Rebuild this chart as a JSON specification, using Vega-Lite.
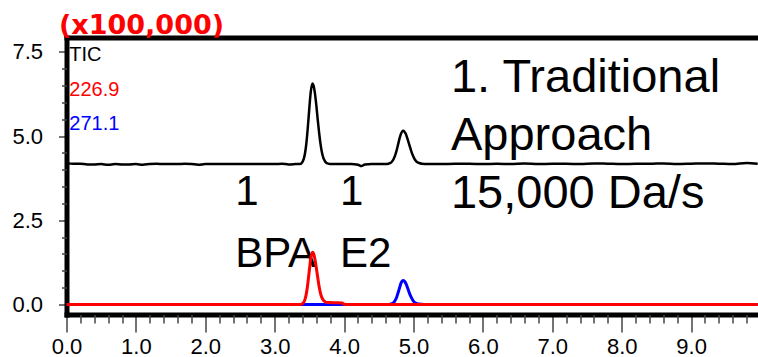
{
  "$schema": "https://vega.github.io/schema/vega-lite/v6.json",
  "width": 691.5,
  "height": 277,
  "autosize": {"type": "none"},
  "padding": {"left": 66.5, "top": 37.5, "right": 0, "bottom": 42.5},
  "background": "white",
  "config": {
    "view": {"stroke": null},
    "axis": {"grid": false, "domain": false, "labelFont": "Liberation Sans", "labelFontSize": 22, "labelColor": "black", "tickColor": "#444", "tickWidth": 1.5},
    "text": {"font": "Liberation Sans"}
  },
  "datasets": {
    "lines": [
      {"t": 0.0, "v": 4.19, "s": "TIC"}, {"t": 0.1, "v": 4.18, "s": "TIC"}, {"t": 0.2, "v": 4.18, "s": "TIC"}, {"t": 0.3, "v": 4.16, "s": "TIC"}, {"t": 0.4, "v": 4.16, "s": "TIC"}, {"t": 0.5, "v": 4.17, "s": "TIC"}, {"t": 0.6, "v": 4.15, "s": "TIC"}, {"t": 0.7, "v": 4.17, "s": "TIC"}, {"t": 0.8, "v": 4.16, "s": "TIC"}, {"t": 0.9, "v": 4.16, "s": "TIC"}, {"t": 1.0, "v": 4.17, "s": "TIC"}, {"t": 1.1, "v": 4.15, "s": "TIC"}, {"t": 1.2, "v": 4.17, "s": "TIC"}, {"t": 1.3, "v": 4.18, "s": "TIC"}, {"t": 1.4, "v": 4.17, "s": "TIC"}, {"t": 1.5, "v": 4.17, "s": "TIC"}, {"t": 1.6, "v": 4.17, "s": "TIC"}, {"t": 1.7, "v": 4.18, "s": "TIC"}, {"t": 1.8, "v": 4.17, "s": "TIC"}, {"t": 1.9, "v": 4.15, "s": "TIC"}, {"t": 2.0, "v": 4.17, "s": "TIC"}, {"t": 2.2, "v": 4.17, "s": "TIC"}, {"t": 2.4, "v": 4.17, "s": "TIC"}, {"t": 2.6, "v": 4.17, "s": "TIC"}, {"t": 2.8, "v": 4.17, "s": "TIC"}, {"t": 3.0, "v": 4.17, "s": "TIC"}, {"t": 3.1, "v": 4.18, "s": "TIC"}, {"t": 3.2, "v": 4.16, "s": "TIC"}, {"t": 3.3, "v": 4.17, "s": "TIC"}, {"t": 3.38, "v": 4.18, "s": "TIC"},
      {"t": 3.40, "v": 4.235, "s": "TIC"}, {"t": 3.42, "v": 4.33, "s": "TIC"}, {"t": 3.44, "v": 4.53, "s": "TIC"}, {"t": 3.46, "v": 4.86, "s": "TIC"}, {"t": 3.48, "v": 5.33, "s": "TIC"}, {"t": 3.50, "v": 5.86, "s": "TIC"}, {"t": 3.52, "v": 6.32, "s": "TIC"}, {"t": 3.545, "v": 6.56, "s": "TIC"}, {"t": 3.56, "v": 6.50, "s": "TIC"}, {"t": 3.58, "v": 6.27, "s": "TIC"}, {"t": 3.60, "v": 5.91, "s": "TIC"}, {"t": 3.62, "v": 5.49, "s": "TIC"}, {"t": 3.64, "v": 5.10, "s": "TIC"}, {"t": 3.66, "v": 4.77, "s": "TIC"}, {"t": 3.68, "v": 4.52, "s": "TIC"}, {"t": 3.70, "v": 4.36, "s": "TIC"}, {"t": 3.72, "v": 4.27, "s": "TIC"}, {"t": 3.74, "v": 4.21, "s": "TIC"}, {"t": 3.76, "v": 4.19, "s": "TIC"}, {"t": 3.80, "v": 4.17, "s": "TIC"},
      {"t": 3.9, "v": 4.17, "s": "TIC"}, {"t": 4.0, "v": 4.17, "s": "TIC"}, {"t": 4.1, "v": 4.17, "s": "TIC"}, {"t": 4.2, "v": 4.15, "s": "TIC"}, {"t": 4.25, "v": 4.11, "s": "TIC"}, {"t": 4.3, "v": 4.16, "s": "TIC"}, {"t": 4.4, "v": 4.17, "s": "TIC"}, {"t": 4.5, "v": 4.17, "s": "TIC"}, {"t": 4.6, "v": 4.17, "s": "TIC"}, {"t": 4.64, "v": 4.18, "s": "TIC"},
      {"t": 4.66, "v": 4.195, "s": "TIC"}, {"t": 4.68, "v": 4.22, "s": "TIC"}, {"t": 4.70, "v": 4.27, "s": "TIC"}, {"t": 4.72, "v": 4.35, "s": "TIC"}, {"t": 4.74, "v": 4.46, "s": "TIC"}, {"t": 4.76, "v": 4.60, "s": "TIC"}, {"t": 4.78, "v": 4.77, "s": "TIC"}, {"t": 4.80, "v": 4.94, "s": "TIC"}, {"t": 4.82, "v": 5.07, "s": "TIC"}, {"t": 4.85, "v": 5.16, "s": "TIC"}, {"t": 4.87, "v": 5.13, "s": "TIC"}, {"t": 4.89, "v": 5.06, "s": "TIC"}, {"t": 4.91, "v": 4.94, "s": "TIC"}, {"t": 4.93, "v": 4.81, "s": "TIC"}, {"t": 4.95, "v": 4.67, "s": "TIC"}, {"t": 4.97, "v": 4.54, "s": "TIC"}, {"t": 4.99, "v": 4.43, "s": "TIC"}, {"t": 5.01, "v": 4.34, "s": "TIC"}, {"t": 5.03, "v": 4.275, "s": "TIC"}, {"t": 5.05, "v": 4.23, "s": "TIC"}, {"t": 5.08, "v": 4.20, "s": "TIC"}, {"t": 5.12, "v": 4.18, "s": "TIC"}, {"t": 5.2, "v": 4.17, "s": "TIC"},
      {"t": 5.4, "v": 4.17, "s": "TIC"}, {"t": 5.6, "v": 4.18, "s": "TIC"}, {"t": 5.8, "v": 4.18, "s": "TIC"}, {"t": 6.0, "v": 4.17, "s": "TIC"}, {"t": 6.2, "v": 4.18, "s": "TIC"}, {"t": 6.4, "v": 4.17, "s": "TIC"}, {"t": 6.6, "v": 4.19, "s": "TIC"}, {"t": 6.8, "v": 4.17, "s": "TIC"}, {"t": 7.0, "v": 4.18, "s": "TIC"}, {"t": 7.2, "v": 4.18, "s": "TIC"}, {"t": 7.4, "v": 4.17, "s": "TIC"}, {"t": 7.6, "v": 4.19, "s": "TIC"}, {"t": 7.8, "v": 4.18, "s": "TIC"}, {"t": 8.0, "v": 4.17, "s": "TIC"}, {"t": 8.2, "v": 4.18, "s": "TIC"}, {"t": 8.4, "v": 4.18, "s": "TIC"}, {"t": 8.6, "v": 4.19, "s": "TIC"}, {"t": 8.8, "v": 4.17, "s": "TIC"}, {"t": 9.0, "v": 4.18, "s": "TIC"}, {"t": 9.2, "v": 4.19, "s": "TIC"}, {"t": 9.4, "v": 4.18, "s": "TIC"}, {"t": 9.6, "v": 4.17, "s": "TIC"}, {"t": 9.8, "v": 4.2, "s": "TIC"}, {"t": 9.96, "v": 4.18, "s": "TIC"},

      {"t": 0.0, "v": 0, "s": "226.9"}, {"t": 3.38, "v": 0, "s": "226.9"}, {"t": 3.40, "v": 0.023, "s": "226.9"}, {"t": 3.42, "v": 0.068, "s": "226.9"}, {"t": 3.44, "v": 0.171, "s": "226.9"}, {"t": 3.46, "v": 0.366, "s": "226.9"}, {"t": 3.48, "v": 0.666, "s": "226.9"}, {"t": 3.50, "v": 1.03, "s": "226.9"}, {"t": 3.52, "v": 1.37, "s": "226.9"}, {"t": 3.545, "v": 1.55, "s": "226.9"}, {"t": 3.56, "v": 1.51, "s": "226.9"}, {"t": 3.58, "v": 1.34, "s": "226.9"}, {"t": 3.60, "v": 1.08, "s": "226.9"}, {"t": 3.62, "v": 0.80, "s": "226.9"}, {"t": 3.64, "v": 0.53, "s": "226.9"}, {"t": 3.66, "v": 0.33, "s": "226.9"}, {"t": 3.68, "v": 0.20, "s": "226.9"}, {"t": 3.70, "v": 0.13, "s": "226.9"}, {"t": 3.72, "v": 0.09, "s": "226.9"}, {"t": 3.74, "v": 0.06, "s": "226.9"}, {"t": 3.78, "v": 0.055, "s": "226.9"}, {"t": 3.85, "v": 0.05, "s": "226.9"}, {"t": 3.92, "v": 0.05, "s": "226.9"}, {"t": 3.97, "v": 0.045, "s": "226.9"}, {"t": 4.00, "v": 0.005, "s": "226.9"}, {"t": 4.05, "v": 0, "s": "226.9"}, {"t": 9.96, "v": 0, "s": "226.9"},

      {"t": 0.0, "v": 0, "s": "271.1"}, {"t": 4.64, "v": 0, "s": "271.1"}, {"t": 4.66, "v": 0.005, "s": "271.1"}, {"t": 4.68, "v": 0.013, "s": "271.1"}, {"t": 4.70, "v": 0.031, "s": "271.1"}, {"t": 4.72, "v": 0.067, "s": "271.1"}, {"t": 4.74, "v": 0.133, "s": "271.1"}, {"t": 4.76, "v": 0.23, "s": "271.1"}, {"t": 4.78, "v": 0.36, "s": "271.1"}, {"t": 4.80, "v": 0.50, "s": "271.1"}, {"t": 4.82, "v": 0.63, "s": "271.1"}, {"t": 4.85, "v": 0.71, "s": "271.1"}, {"t": 4.87, "v": 0.685, "s": "271.1"}, {"t": 4.89, "v": 0.62, "s": "271.1"}, {"t": 4.91, "v": 0.52, "s": "271.1"}, {"t": 4.93, "v": 0.40, "s": "271.1"}, {"t": 4.95, "v": 0.29, "s": "271.1"}, {"t": 4.97, "v": 0.20, "s": "271.1"}, {"t": 4.99, "v": 0.124, "s": "271.1"}, {"t": 5.01, "v": 0.073, "s": "271.1"}, {"t": 5.03, "v": 0.04, "s": "271.1"}, {"t": 5.05, "v": 0.02, "s": "271.1"}, {"t": 5.08, "v": 0.01, "s": "271.1"}, {"t": 5.12, "v": 0.002, "s": "271.1"}, {"t": 5.15, "v": 0, "s": "271.1"}, {"t": 9.96, "v": 0, "s": "271.1"}
    ],
    "legend": [
      {"t": 0.04, "v": 7.22, "s": "TIC"},
      {"t": 0.04, "v": 6.18, "s": "226.9"},
      {"t": 0.04, "v": 5.19, "s": "271.1"}
    ],
    "peaks": [
      {"t": 2.43, "v": 2.96, "label": "1"},
      {"t": 2.43, "v": 1.12, "label": "BPA"},
      {"t": 3.94, "v": 2.96, "label": "1"},
      {"t": 3.94, "v": 1.12, "label": "E2"}
    ],
    "note": [
      {"t": 5.54, "v": 6.30, "label": "1. Traditional"},
      {"t": 5.54, "v": 4.60, "label": "Approach"},
      {"t": 5.54, "v": 2.87, "label": "15,000 Da/s"}
    ]
  },
  "layer": [
    {
      "data": {"name": "legend"},
      "mark": {"type": "text", "align": "left", "baseline": "alphabetic", "fontSize": 20},
      "encoding": {
        "x": {"field": "t", "type": "quantitative", "scale": {"domain": [0, 9.964], "nice": false, "zero": false}, "axis": null},
        "y": {"field": "v", "type": "quantitative", "scale": {"domain": [-0.3, 7.93], "nice": false, "zero": false}, "axis": null},
        "text": {"field": "s"},
        "color": {"field": "s", "type": "nominal", "scale": {"domain": ["TIC", "226.9", "271.1"], "range": ["#000000", "#ff0000", "#0000ff"]}, "legend": null}
      }
    },
    {
      "data": {"name": "peaks"},
      "mark": {"type": "text", "align": "left", "baseline": "alphabetic", "fontSize": 42, "color": "black"},
      "encoding": {
        "x": {"field": "t", "type": "quantitative", "axis": null},
        "y": {"field": "v", "type": "quantitative", "axis": null},
        "text": {"field": "label"}
      }
    },
    {
      "data": {"name": "note"},
      "mark": {"type": "text", "align": "left", "baseline": "alphabetic", "fontSize": 47, "color": "black"},
      "encoding": {
        "x": {"field": "t", "type": "quantitative", "axis": null},
        "y": {"field": "v", "type": "quantitative", "axis": null},
        "text": {"field": "label"}
      }
    },
    {
      "data": {"name": "lines"},
      "transform": [{"filter": "datum.s === 'TIC'"}],
      "mark": {"type": "line", "strokeWidth": 2.5, "interpolate": "monotone"},
      "encoding": {
        "x": {"field": "t", "type": "quantitative", "axis": {"orient": "bottom", "title": null, "values": [0, 1, 2, 3, 4, 5, 6, 7, 8, 9], "format": ".1f", "tickSize": 17.5, "labelPadding": 4, "labelFont": "Liberation Sans", "labelFontSize": 22, "labelFlush": false, "labelOverlap": false, "domain": true, "domainColor": "black", "domainWidth": 5, "domainCap": "square"}},
        "y": {"field": "v", "type": "quantitative", "axis": {"orient": "left", "values": [0, 2.5, 5, 7.5], "format": ".1f", "tickSize": 8, "labelPadding": 16, "labelFont": "Liberation Sans", "labelFontSize": 22, "labelFlush": false, "labelOverlap": false, "domain": true, "domainColor": "black", "domainWidth": 5, "domainCap": "square", "title": "(x100,000)", "titleAngle": 0, "titleAlign": "left", "titleBaseline": "alphabetic", "titleX": -8, "titleY": -4, "titleColor": "#ff0000", "titleFont": "DejaVu Sans", "titleFontSize": 27, "titleFontWeight": "bold"}},
        "color": {"field": "s", "type": "nominal", "legend": null}
      }
    },
    {
      "data": {"name": "lines"},
      "transform": [{"filter": "datum.s === '271.1'"}],
      "mark": {"type": "line", "strokeWidth": 3, "interpolate": "monotone"},
      "encoding": {
        "x": {"field": "t", "type": "quantitative", "axis": {"orient": "bottom", "title": null, "values": [0.2, 0.4, 0.6, 0.8, 1.2, 1.4, 1.6, 1.8, 2.2, 2.4, 2.6, 2.8, 3.2, 3.4, 3.6, 3.8, 4.2, 4.4, 4.6, 4.8, 5.2, 5.4, 5.6, 5.8, 6.2, 6.4, 6.6, 6.8, 7.2, 7.4, 7.6, 7.8, 8.2, 8.4, 8.6, 8.8, 9.2, 9.4, 9.6, 9.8], "labels": false, "tickSize": 8.5}},
        "y": {"field": "v", "type": "quantitative", "axis": {"orient": "left", "title": null, "values": [0.5, 1, 1.5, 2, 3, 3.5, 4, 4.5, 5.5, 6, 6.5, 7], "labels": false, "tickSize": 5}},
        "color": {"field": "s", "type": "nominal", "legend": null}
      }
    },
    {
      "data": {"name": "lines"},
      "transform": [{"filter": "datum.s === '226.9'"}],
      "mark": {"type": "line", "strokeWidth": 3, "interpolate": "monotone"},
      "encoding": {
        "x": {"field": "t", "type": "quantitative", "axis": {"orient": "top", "title": null, "labels": false, "ticks": false, "domain": true, "domainColor": "black", "domainWidth": 5, "domainCap": "square"}},
        "y": {"field": "v", "type": "quantitative", "axis": null},
        "color": {"field": "s", "type": "nominal", "legend": null}
      }
    }
  ],
  "resolve": {"axis": {"x": "independent", "y": "independent"}}
}
